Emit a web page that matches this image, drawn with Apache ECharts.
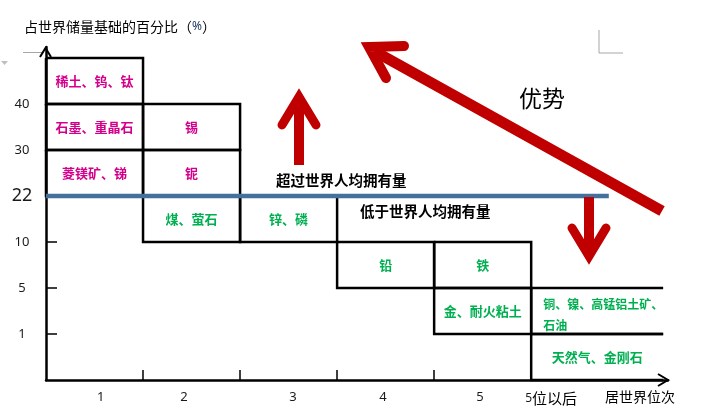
<!DOCTYPE html>
<html>
<head>
<meta charset="utf-8">
<script src="https://cdn.jsdelivr.net/npm/echarts@6/dist/echarts.min.js"></script>
<style>
html,body{margin:0;padding:0;background:#fff;}
#chart{width:708px;height:417px;}
</style>
</head>
<body>
<div id="chart"></div>
<script>
// ---- data ----
const minerals = ['稀土、钨、钛','石墨、重晶石','菱镁矿、锑','锡','铌','煤、萤石','锌、磷','铅','铁','金、耐火粘土','铜、镍、高锰铝土矿、\n石油','天然气、金刚石'];
const rankGroup = [1,1,1,2,2,2,3,4,5,5,6,6];          // world rank group (6 = 5位以后)
const shareBand = [6,5,4,5,4,3,3,2,2,1,1,0];          // band of share (band k lies between shareTicks[k] and shareTicks[k+1])
const shareTicks = ['', '1', '5', '10', '22', '30', '40'];
const rankLabels = ['1', '2', '3', '4', '5', '5位以后'];
const worldAvgShare = '22';

// ---- layout ----
const lastColWidth = 1.36;
const rankLabelPos = [0.564, 1.422, 2.546, 3.473, 4.473, 5.206];
const avgLineEnd = 5.8;
const cellAlign = minerals.map(m => m.indexOf('\n') >= 0 ? 'left' : 'center');
const avgBand = shareTicks.indexOf(worldAvgShare);
const CJK = '"Noto Sans CJK SC", "Noto Sans", sans-serif';
const RED = '#C00000';

const chart = echarts.init(document.getElementById('chart'), null, {renderer: 'canvas'});

function renderCell(params, api) {
  const i = params.dataIndex;
  const col = api.value(0);
  const band = api.value(1);
  const isLast = rankGroup[i] === rankLabels.length;
  const w = isLast ? lastColWidth : 1;
  const p0 = api.coord([col, band]);
  const p1 = api.coord([col + w, band + 1]);
  const x0 = p0[0], y0 = p1[1], x1 = p1[0], y1 = p0[1];
  const pts = isLast
    ? [[x1, y0], [x0, y0], [x0, y1], [x1, y1]]
    : [[x0, y0], [x1, y0], [x1, y1], [x0, y1], [x0, y0]];
  const above = band >= avgBand;
  const align = cellAlign[i];
  return {
    type: 'group',
    children: [
      {type: 'polyline', shape: {points: pts}, style: {stroke: '#000', lineWidth: 2.5, fill: null, lineJoin: 'miter'}},
      {type: 'text', style: {
        text: minerals[i],
        x: align === 'left' ? x0 + 12 : (x0 + x1) / 2,
        y: (y0 + y1) / 2 + (align === 'left' ? 4 : 0),
        align: align, verticalAlign: 'middle',
        fill: above ? '#D4008C' : '#00B050',
        fontSize: align === 'left' ? 12 : 13, fontWeight: 'bold', fontFamily: CJK, lineHeight: 21
      }}
    ]
  };
}

const option = {
  animation: false,
  backgroundColor: '#fff',
  grid: {left: 46, right: 40, top: 47, bottom: 37},
  xAxis: {
    type: 'value', min: 0, max: 6.41,
    splitLine: {show: false},
    axisLine: {show: true, lineStyle: {color: '#000', width: 2.5}},
    axisTick: {show: true, inside: true, length: 10, customValues: rankLabels.slice(0, 4).map((_, k) => k + 1), lineStyle: {color: '#000', width: 1.5}},
    axisLabel: {
      customValues: rankLabelPos,
      margin: 11,
      color: '#1a1a1a',
      fontSize: 13,
      fontFamily: '"Noto Sans", sans-serif',
      formatter: function (v) {
        let k = -1;
        rankLabelPos.forEach((p, j) => { if (Math.abs(p - v) < 1e-6) k = j; });
        if (k < 0) return '';
        const s = rankLabels[k];
        const m = s.match(/^(\d+)(.+)$/);
        return m ? '{n|' + m[1] + '}{t|' + m[2] + '}' : s;
      },
      rich: {
        n: {fontSize: 12, fontFamily: '"Noto Sans", sans-serif', color: '#1a1a1a'},
        t: {fontSize: 15, fontFamily: CJK, color: '#000'}
      }
    }
  },
  yAxis: {
    type: 'value', min: 0, max: 7.24,
    splitLine: {show: false},
    axisLine: {show: true, lineStyle: {color: '#000', width: 2.5}},
    axisTick: {show: true, inside: true, length: 11, customValues: [1, 2, 3], lineStyle: {color: '#000', width: 1.5}},
    axisLabel: {
      customValues: shareTicks.map((_, k) => k).filter(k => shareTicks[k] !== ''),
      margin: 24, align: 'center',
      color: '#1a1a1a', fontSize: 13, fontFamily: '"Noto Sans", sans-serif',
      formatter: function (v) {
        const s = shareTicks[Math.round(v)] || '';
        return s === worldAvgShare ? '{big|' + s + '}' : s;
      },
      rich: {big: {fontSize: 18, fontFamily: '"Noto Sans", sans-serif', color: '#1a1a1a'}}
    }
  },
  series: [
    {
      type: 'custom',
      renderItem: renderCell,
      clip: false,
      data: minerals.map((m, i) => [rankGroup[i] - 1, shareBand[i]]),
      z: 2
    },
    {
      type: 'line',
      data: [[0, avgBand], [avgLineEnd, avgBand]],
      symbol: 'none',
      lineStyle: {color: '#41719C', width: 4.5},
      silent: true,
      z: 5
    }
  ],
  graphic: [
    // axis arrows
    {type: 'polyline', shape: {points: [[40, 57], [45.5, 48], [51, 57]]}, style: {stroke: '#000', lineWidth: 2, fill: null}, z: 10},
    {type: 'polyline', shape: {points: [[658, 374], [668, 380], [658, 386]]}, style: {stroke: '#000', lineWidth: 2, fill: null}, z: 10},
    // axis titles
    {type: 'text', left: 24, top: 20, style: {text: '占世界储量基础的百分比（{p|%}）', fontSize: 14, fontFamily: CJK, fill: '#000',
      rich: {p: {fontSize: 12, fill: '#1F3864', fontFamily: '"Noto Sans", sans-serif'}}}, z: 10},
    {type: 'text', x: 640, y: 397, style: {text: '居世界位次', fontSize: 14, fontFamily: CJK, fill: '#000', align: 'center', verticalAlign: 'middle'}, z: 10},
    // annotations
    {type: 'text', x: 276, y: 180, style: {text: '超过世界人均拥有量', fontSize: 14.5, fontWeight: 'bold', fontFamily: CJK, fill: '#000', verticalAlign: 'middle'}, z: 10},
    {type: 'text', x: 360, y: 211, style: {text: '低于世界人均拥有量', fontSize: 14.5, fontWeight: 'bold', fontFamily: CJK, fill: '#000', verticalAlign: 'middle'}, z: 10},
    {type: 'text', x: 542, y: 98, style: {text: '优势', fontSize: 23, fontFamily: CJK, fill: '#000', align: 'center', verticalAlign: 'middle'}, z: 10},
    // red arrows
    {type: 'polyline', shape: {points: [[299, 165], [299, 100]]}, style: {stroke: RED, lineWidth: 10, fill: null}, z: 9},
    {type: 'polyline', shape: {points: [[282, 125], [299, 97], [316, 125]]}, style: {stroke: RED, lineWidth: 9, fill: null, lineCap: 'round', lineJoin: 'miter'}, z: 9},
    {type: 'polyline', shape: {points: [[589, 197], [589, 253]]}, style: {stroke: RED, lineWidth: 10, fill: null}, z: 9},
    {type: 'polyline', shape: {points: [[572, 228], [589, 256], [606, 228]]}, style: {stroke: RED, lineWidth: 9, fill: null, lineCap: 'round', lineJoin: 'miter'}, z: 9},
    {type: 'polyline', shape: {points: [[662, 211], [374, 51]]}, style: {stroke: RED, lineWidth: 11, fill: null}, z: 9},
    {type: 'polyline', shape: {points: [[404, 46], [369, 47], [386, 78]]}, style: {stroke: RED, lineWidth: 10, fill: null, lineCap: 'round', lineJoin: 'miter'}, z: 9},
    // page marks
    {type: 'polyline', shape: {points: [[599, 30], [599, 53], [623, 53]]}, style: {stroke: '#A6A6A6', lineWidth: 1, fill: null}, z: 1},
    {type: 'polyline', shape: {points: [[23, 52.5], [44, 52.5]]}, style: {stroke: '#A6A6A6', lineWidth: 1, fill: null}, z: 1},
    {type: 'polygon', shape: {points: [[1, 61], [8, 61], [4.5, 65]]}, style: {fill: '#BFBFBF'}, z: 1}
  ]
};
chart.setOption(option);
</script>
</body>
</html>
